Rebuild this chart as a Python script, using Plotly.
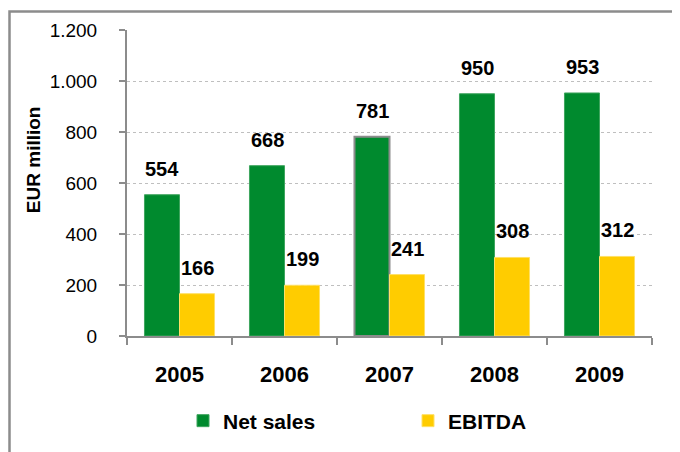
import plotly.graph_objects as go

years = ['2005', '2006', '2007', '2008', '2009']
net_sales = [554, 668, 781, 950, 953]
ebitda = [166, 199, 241, 308, 312]

GREEN = '#008A2E'
YELLOW = '#FFCC00'
FONT = 'Liberation Sans, Arial, sans-serif'

fig = go.Figure()
fig.add_trace(go.Bar(
    x=years, y=net_sales, name='Net sales',
    marker=dict(color=GREEN,
                line=dict(color=['#3FA55F', '#3FA55F', '#8C8C8C', '#3FA55F', '#3FA55F'],
                          width=[1, 1, 2, 1, 1])),
))
fig.add_trace(go.Bar(
    x=years, y=ebitda, name='EBITDA',
    marker=dict(color=YELLOW, line=dict(color='#FFE066', width=1)),
))

# value labels sit well above the bars, as in the source chart
# (annotation x on a category axis = category index)
labels = []
for series, shift in ((net_sales, -17.5), (ebitda, 17.5)):
    for i, v in enumerate(series):
        labels.append(dict(
            x=i, y=v, text=f'<b>{v}</b>', showarrow=False,
            xanchor='center', yanchor='bottom', xshift=shift, yshift=13,
            font=dict(family=FONT, size=20, color='black'),
        ))

labels.append(dict(text='<b>EUR million</b>', textangle=-90, showarrow=False,
                   xref='paper', yref='paper', x=(33 - 127) / 525, y=(336 - 159) / 308,
                   xanchor='center', yanchor='middle',
                   font=dict(family=FONT, size=19, color='black')))

fig.update_layout(
    width=680, height=452,
    margin=dict(l=119, r=36, t=20, b=124),
    paper_bgcolor='white', plot_bgcolor='white',
    barmode='group', bargap=0.333, bargroupgap=0,
    separators=',.',
    showlegend=True,
    legend=dict(
        orientation='h', xref='container', yref='container',
        x=175 / 680, y=1 - 413 / 452, xanchor='left', yanchor='middle',
        font=dict(family=FONT, size=21, color='black', weight='bold'),
        entrywidth=180, entrywidthmode='pixels', itemwidth=30,
    ),
    xaxis=dict(
        type='category',
        showline=True, linecolor='#8C8C8C', linewidth=2,
        ticks='outside', tickson='boundaries', ticklen=7, tickcolor='#8C8C8C', tickwidth=2,
        ticklabelstandoff=18, tickangle=0,
        tickfont=dict(family=FONT, size=22, color='black', weight='bold'),
        showgrid=False,
    ),
    yaxis=dict(
        range=[0, 1200], dtick=200, tickformat=',d',
        showline=True, linecolor='#8C8C8C', linewidth=2,
        ticks='outside', ticklen=6, tickcolor='#8C8C8C', tickwidth=2,
        ticklabelstandoff=18,
        tickfont=dict(family=FONT, size=19, color='black'),
        showgrid=True, gridcolor='#BFBFBF', griddash='dot', gridwidth=1,
        zeroline=False,
    ),
    annotations=labels,
    # outer frame: left and top edges only fall inside the picture
    shapes=[dict(type='rect', xref='paper', yref='paper',
                 x0=(1.5 - 119) / 525, x1=1.2, y0=-0.5, y1=(328 - 1.5) / 308,
                 line=dict(color='#8C8C8C', width=2.5))],
)

fig.write_html('out.html')
